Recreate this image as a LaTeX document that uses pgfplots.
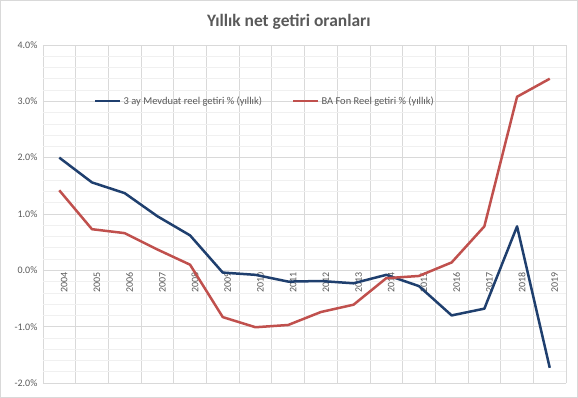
\documentclass[border=0pt]{standalone}
\usepackage{pgfplots}
\pgfplotsset{compat=1.18}
\usepackage{fontspec}
\setmainfont{Carlito}
\definecolor{sblue}{HTML}{1F3F6E}
\definecolor{sred}{HTML}{C0504D}
\definecolor{txt}{HTML}{595959}
\definecolor{gmaj}{HTML}{D9D9D9}
\definecolor{gmin}{HTML}{F0F0F0}
\begin{document}
\begin{tikzpicture}
\draw[gmaj, line width=0.8bp] (-42.5bp,-14.5bp) rectangle (534.5bp,382.5bp);
\begin{axis}[
  at={(0,0)}, anchor=south west,
  scale only axis, width=523bp, height=338bp,
  xmin=-0.5, xmax=15.5, ymin=-2, ymax=4,
  axis x line=middle, axis y line=left,
  x axis line style={draw=none}, y axis line style={draw=none},
  xtick={0,...,15},
  xticklabels={2004,2005,2006,2007,2008,2009,2010,2011,2012,2013,2014,2015,2016,2017,2018,2019},
  minor xtick={-0.5,0.5,...,15.5},
  ytick={-2,-1,0,1,2,3,4},
  yticklabels={-2.0\%,-1.0\%,0.0\%,1.0\%,2.0\%,3.0\%,4.0\%},
  minor ytick={-1.8,-1.6,...,3.9},
  major tick length=0, minor tick length=0,
  xmajorgrids=false, xminorgrids=true, ymajorgrids=true, yminorgrids=true,
  major grid style={gmaj, line width=0.8bp},
  minor x grid style={gmaj, line width=0.8bp},
  minor y grid style={gmin, line width=0.6bp},
  xticklabel style={rotate=90, anchor=east, font=\fontsize{10}{12}\selectfont, text=txt, inner sep=2bp, yshift=-5bp},
  yticklabel style={font=\fontsize{10}{12}\selectfont, text=txt, xshift=-2bp},
  legend style={at={(rel axis cs:0.092,0.834)}, anchor=west, draw=none, fill=none,
    font=\fontsize{10.5}{12}\selectfont, text=txt, legend columns=2,
    /tikz/every even column/.append style={column sep=28bp}},
  legend cell align=left,
  legend image post style={line width=2.5bp},
  legend image code/.code={\draw[#1] (0bp,0bp) -- (25bp,0bp);},
  clip=false,
]
\addplot[sblue, line width=2.5bp, line join=round] coordinates {
(0,2.00) (1,1.56) (2,1.37) (3,0.96) (4,0.62) (5,-0.04) (6,-0.08) (7,-0.20)
(8,-0.19) (9,-0.23) (10,-0.08) (11,-0.28) (12,-0.80) (13,-0.68) (14,0.78) (15,-1.73)};
\addlegendentry{3 ay Mevduat reel getiri \% (yıllık)}
\addplot[sred, line width=2.5bp, line join=round] coordinates {
(0,1.42) (1,0.73) (2,0.66) (3,0.37) (4,0.10) (5,-0.83) (6,-1.01) (7,-0.97)
(8,-0.74) (9,-0.61) (10,-0.14) (11,-0.10) (12,0.14) (13,0.78) (14,3.08) (15,3.40)};
\addlegendentry{BA Fon Reel getiri \% (yıllık)}
\node[text=txt, font=\fontsize{17.5}{20}\selectfont\bfseries] at (rel axis cs:0.470,1.0) [yshift=23bp] {Yıllık net getiri oranları};
\end{axis}
\end{tikzpicture}
\end{document}
